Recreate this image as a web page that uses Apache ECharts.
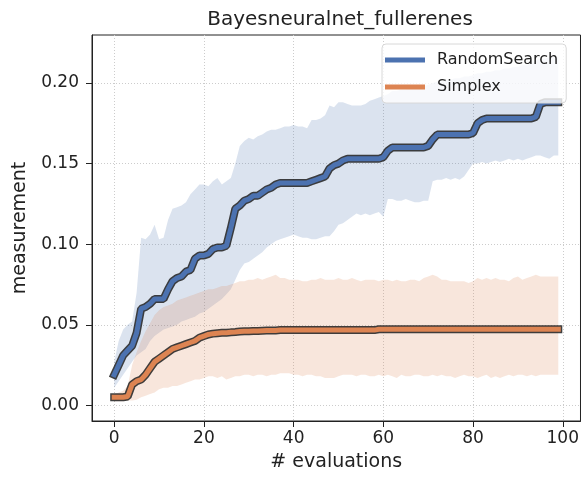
<!DOCTYPE html>
<html>
<head>
<meta charset="utf-8">
<script src="https://cdn.jsdelivr.net/npm/echarts@6/dist/echarts.min.js"></script>
<style>
  html, body { margin: 0; padding: 0; background: #fff; }
  #main { width: 582px; height: 477px; }
</style>
</head>
<body>
<div id="main"></div>
<script>
// evaluations 0..99
var evals = [];
for (var i = 0; i < 100; i++) evals.push(i);

var xTicks = [0, 20, 40, 60, 80, 100];
var yTicks = [0, 0.05, 0.10, 0.15, 0.20];

// RandomSearch: mean and band
var rsMean = [0.019,0.025,0.031,0.034,0.037,0.045,0.060,0.061,0.063,0.066,
  0.066,0.066,0.072,0.077,0.079,0.080,0.083,0.084,0.091,0.093,
  0.093,0.094,0.097,0.098,0.098,0.099,0.110,0.122,0.124,0.127,
  0.128,0.130,0.130,0.132,0.134,0.135,0.137,0.138,0.138,0.138,
  0.138,0.138,0.138,0.138,0.139,0.140,0.141,0.142,0.147,0.149,
  0.150,0.152,0.153,0.153,0.153,0.153,0.153,0.153,0.153,0.153,
  0.154,0.158,0.160,0.160,0.160,0.160,0.160,0.160,0.160,0.160,
  0.161,0.165,0.168,0.168,0.168,0.168,0.168,0.168,0.168,0.168,
  0.169,0.175,0.177,0.178,0.178,0.178,0.178,0.178,0.178,0.178,
  0.178,0.178,0.178,0.178,0.179,0.187,0.188,0.188,0.188,0.188];
var rsUpper = [0.027,0.040,0.047,0.050,0.052,0.070,0.104,0.103,0.106,0.112,
  0.103,0.104,0.115,0.122,0.123,0.124,0.126,0.131,0.134,0.137,
  0.137,0.136,0.139,0.141,0.137,0.139,0.141,0.150,0.161,0.164,
  0.166,0.165,0.167,0.168,0.170,0.171,0.171,0.172,0.173,0.173,
  0.174,0.173,0.173,0.172,0.177,0.177,0.178,0.180,0.186,0.185,
  0.188,0.188,0.187,0.186,0.186,0.186,0.187,0.189,0.190,0.191,
  0.192,0.193,0.195,0.195,0.196,0.196,0.197,0.197,0.198,0.198,
  0.199,0.200,0.201,0.201,0.202,0.202,0.203,0.203,0.204,0.204,
  0.205,0.206,0.206,0.207,0.207,0.208,0.208,0.209,0.209,0.210,
  0.210,0.211,0.211,0.212,0.214,0.215,0.215,0.216,0.216,0.216];
var rsLower = [0.011,0.015,0.019,0.023,0.027,0.031,0.033,0.035,0.040,0.043,
  0.045,0.047,0.048,0.049,0.050,0.052,0.053,0.054,0.055,0.057,
  0.058,0.060,0.062,0.064,0.066,0.069,0.072,0.078,0.084,0.088,
  0.089,0.091,0.093,0.095,0.098,0.100,0.102,0.103,0.104,0.105,
  0.106,0.105,0.104,0.104,0.103,0.103,0.104,0.105,0.105,0.108,
  0.112,0.113,0.115,0.117,0.119,0.118,0.119,0.118,0.119,0.120,
  0.117,0.128,0.128,0.127,0.127,0.128,0.127,0.126,0.126,0.127,
  0.127,0.139,0.140,0.140,0.141,0.140,0.141,0.140,0.142,0.146,
  0.150,0.150,0.151,0.150,0.151,0.152,0.151,0.152,0.153,0.152,
  0.153,0.152,0.153,0.154,0.155,0.155,0.154,0.153,0.155,0.155];

// Simplex: mean and band
var sxMean = [0.005,0.005,0.005,0.0055,0.013,0.015,0.016,0.019,0.023,0.027,
  0.029,0.031,0.033,0.035,0.036,0.037,0.038,0.039,0.040,0.042,
  0.043,0.044,0.0445,0.0448,0.045,0.045,0.0453,0.0455,0.0458,0.046,
  0.046,0.0462,0.0462,0.0463,0.0464,0.0465,0.0465,0.0467,0.0467,0.0467,
  0.0467,0.0467,0.0467,0.0467,0.0467,0.0467,0.0467,0.0467,0.0467,0.0467,
  0.0467,0.0467,0.0467,0.0467,0.0467,0.0467,0.0467,0.0467,0.0467,0.0472,
  0.0472,0.0472,0.0472,0.0472,0.0472,0.0472,0.0472,0.0472,0.0472,0.0472,
  0.0472,0.0472,0.0472,0.0472,0.0472,0.0472,0.0472,0.0472,0.0472,0.0472,
  0.0472,0.0472,0.0472,0.0472,0.0472,0.0472,0.0472,0.0472,0.0472,0.0472,
  0.0472,0.0472,0.0472,0.0472,0.0472,0.0472,0.0472,0.0472,0.0472,0.0472];
var sxUpper = [0.007,0.008,0.009,0.012,0.025,0.033,0.040,0.046,0.051,0.056,
  0.059,0.061,0.062,0.063,0.065,0.066,0.067,0.068,0.069,0.070,
  0.071,0.072,0.072,0.073,0.074,0.074,0.075,0.076,0.077,0.077,
  0.078,0.078,0.079,0.078,0.079,0.080,0.081,0.079,0.079,0.078,
  0.078,0.078,0.077,0.077,0.078,0.078,0.079,0.078,0.078,0.078,
  0.079,0.078,0.078,0.079,0.078,0.077,0.078,0.078,0.078,0.077,
  0.078,0.078,0.077,0.078,0.077,0.077,0.078,0.078,0.077,0.079,
  0.080,0.081,0.080,0.078,0.078,0.077,0.077,0.077,0.077,0.076,
  0.077,0.079,0.078,0.079,0.078,0.079,0.078,0.078,0.077,0.079,
  0.080,0.078,0.079,0.080,0.081,0.080,0.080,0.080,0.080,0.080];
var sxLower = [0.0025,0.0025,0.0025,0.003,0.003,0.0035,0.005,0.006,0.007,0.008,
  0.010,0.011,0.011,0.012,0.012,0.013,0.014,0.015,0.016,0.016,
  0.017,0.018,0.018,0.017,0.018,0.016,0.017,0.018,0.018,0.019,
  0.019,0.018,0.019,0.019,0.018,0.019,0.019,0.020,0.020,0.020,
  0.019,0.019,0.018,0.019,0.019,0.018,0.018,0.017,0.017,0.017,
  0.018,0.019,0.019,0.019,0.018,0.019,0.019,0.018,0.018,0.019,
  0.018,0.019,0.018,0.017,0.019,0.018,0.018,0.019,0.019,0.018,
  0.018,0.019,0.018,0.019,0.018,0.018,0.017,0.018,0.019,0.018,
  0.018,0.017,0.018,0.019,0.017,0.018,0.017,0.018,0.019,0.018,
  0.019,0.019,0.018,0.019,0.018,0.019,0.019,0.019,0.019,0.019];

var BLUE = '#4c72b0', ORANGE = '#dd8452';
var FONT = 'DejaVu Sans';

function pairs(vals) {
  return vals.map(function (v, i) { return [evals[i], v]; });
}

// fill_between: one polygon, upper edge forward then lower edge back
function band(up, lo, color) {
  var rows = evals.map(function (x, i) { return [x, lo[i], up[i]]; });
  return {
    type: 'custom', data: rows, silent: true, clip: true,
    encode: { x: 0, y: [1, 2] },
    renderItem: function (params, api) {
      if (params.dataIndex !== 0) return;
      var pts = [];
      for (var k = 0; k < rows.length; k++) pts.push(api.coord([rows[k][0], rows[k][2]]));
      for (var k = rows.length - 1; k >= 0; k--) pts.push(api.coord([rows[k][0], rows[k][1]]));
      return { type: 'polygon', shape: { points: pts }, style: { fill: color, opacity: 0.2 } };
    }
  };
}
// thick line with dark edge
function line(name, vals, color) {
  return [
    { name: name + '_edge', type: 'line', data: pairs(vals), symbol: 'none',
      lineStyle: { color: 'rgba(30,30,30,0.85)', width: 8, cap: 'square' }, silent: true },
    { name: name, type: 'line', data: pairs(vals), symbol: 'none', color: color,
      lineStyle: { color: color, width: 5, cap: 'square' } }
  ];
}

var chart = echarts.init(document.getElementById('main'));
var gridLine = { show: true, lineStyle: { color: '#cccccc', type: [1, 2], width: 1 } };

chart.setOption({
  animation: false,
  title: {
    text: 'Bayesneuralnet_fullerenes', left: 335, top: 5, textAlign: 'center',
    textStyle: { fontFamily: FONT, fontSize: 20, fontWeight: 'normal', color: '#222' }
  },
  legend: {
    data: ['RandomSearch', 'Simplex'], orient: 'vertical', left: 382, top: 44,
    icon: 'rect', itemWidth: 40, itemHeight: 5, itemGap: 11,
    padding: [8, 8, 8, 3],
    backgroundColor: 'rgba(255,255,255,0.8)', borderColor: '#d8d8d8', borderWidth: 1, borderRadius: 4,
    textStyle: { fontFamily: FONT, fontSize: 16, color: '#222', padding: [0, 0, 0, 7] }
  },
  grid: { left: 92, right: 1, top: 35, bottom: 54, show: true, borderColor: '#222', borderWidth: 1 },
  xAxis: {
    type: 'value', min: -4.95, max: 103.95,
    name: '# evaluations', nameLocation: 'middle', nameGap: 32,
    nameTextStyle: { fontFamily: FONT, fontSize: 19, color: '#222' },
    axisLine: { show: true, onZero: false, lineStyle: { color: '#222' } },
    axisTick: { show: true, length: 6, lineStyle: { color: '#222' }, customValues: xTicks },
    axisLabel: { fontFamily: FONT, fontSize: 17, color: '#222', margin: 9, customValues: xTicks },
    splitLine: gridLine
  },
  yAxis: {
    type: 'value', min: -0.0097, max: 0.2298,
    name: 'measurement', nameLocation: 'middle', nameGap: 62,
    nameTextStyle: { fontFamily: FONT, fontSize: 19, color: '#222' },
    axisLine: { show: true, onZero: false, lineStyle: { color: '#222' } },
    axisTick: { show: true, length: 6, lineStyle: { color: '#222' }, customValues: yTicks },
    axisLabel: { fontFamily: FONT, fontSize: 17, color: '#222', margin: 13, customValues: yTicks,
      formatter: function (v) { return v.toFixed(2); } },
    splitLine: gridLine
  },
  series: [
    band(rsUpper, rsLower, BLUE),
    band(sxUpper, sxLower, ORANGE)
  ].concat(
    line('RandomSearch', rsMean, BLUE),
    line('Simplex', sxMean, ORANGE)
  )
});
</script>
</body>
</html>
